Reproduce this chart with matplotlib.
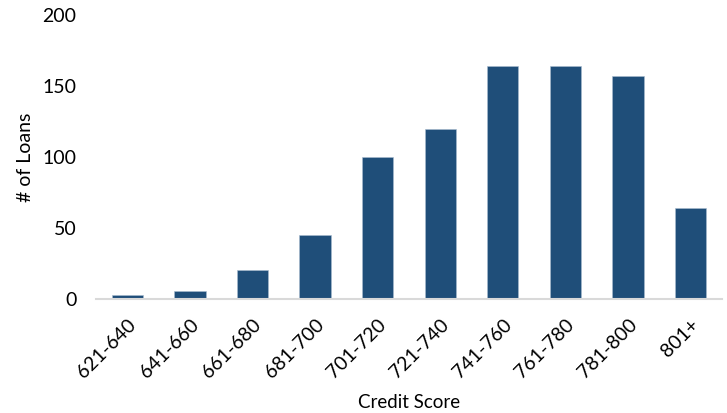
import matplotlib.pyplot as plt

plt.rcParams['font.family'] = ['Lato', 'DejaVu Sans']

score_bands = ['621-640', '641-660', '661-680', '681-700', '701-720',
               '721-740', '741-760', '761-780', '781-800', '801+']
loan_counts = [3, 6, 21, 45, 100, 120, 164, 164, 157, 64]

bar_color = '#1F4E79'
axis_gray = '#D9D9D9'

fig = plt.figure(figsize=(7.27, 4.13), dpi=100)
ax = fig.add_axes([0.132, 0.275, 0.861, 0.689])

x = range(len(score_bands))
ax.bar(x, loan_counts, width=0.5, color=bar_color,
       edgecolor='#A9BCD0', linewidth=0.4)

ax.set_xlim(-0.5, len(score_bands) - 0.5)
ax.set_ylim(0, 200)
ax.set_yticks([0, 50, 100, 150, 200])

ax.set_xticks(list(x))
ax.set_xticklabels(score_bands, rotation=45, ha='right',
                   rotation_mode='anchor', fontsize=14)
ax.tick_params(axis='y', labelsize=14, length=0, pad=14)
ax.tick_params(axis='x', length=0, pad=12)

for side in ['top', 'right', 'left']:
    ax.spines[side].set_visible(False)
ax.spines['bottom'].set_color(axis_gray)
ax.spines['bottom'].set_linewidth(1.5)

ax.set_xlabel('Credit Score', fontsize=13.5, labelpad=9)
ax.set_ylabel('# of Loans', fontsize=14, labelpad=6)

fig.savefig('out.png', dpi=100)
